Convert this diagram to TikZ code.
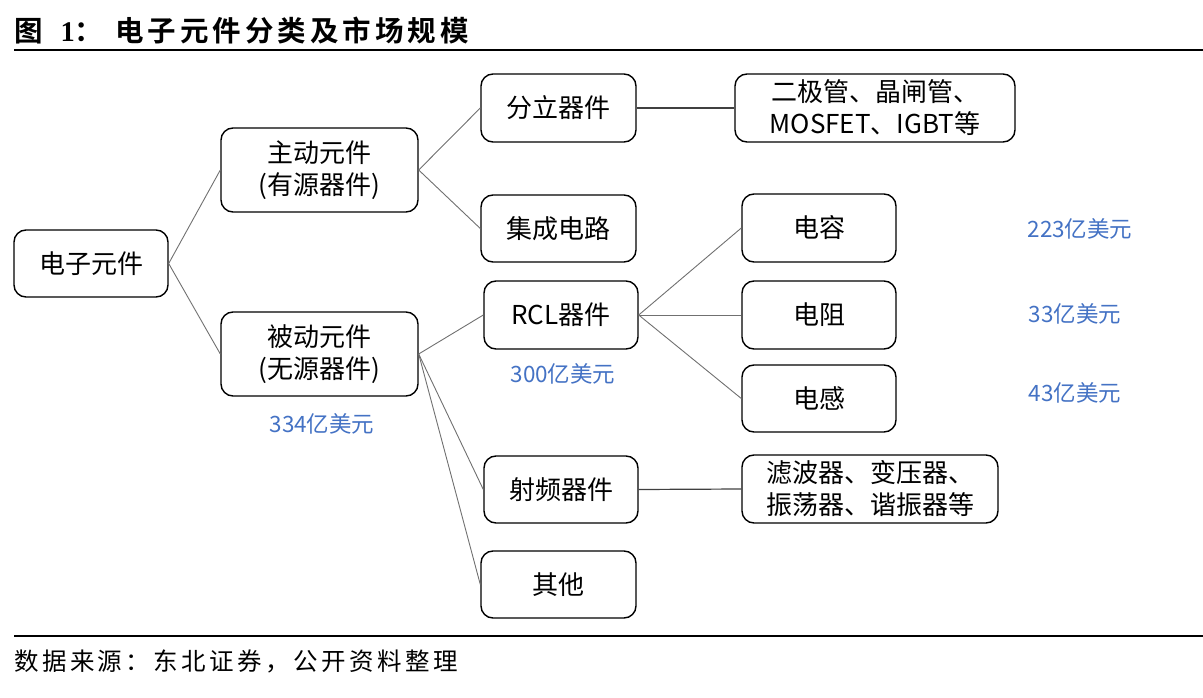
\documentclass[tikz,border=0pt]{standalone}
\usepackage{fontspec}
\setmainfont{Noto Sans CJK SC}[BoldFont={Noto Sans CJK SC Bold}]
\newfontfamily\numfont{Liberation Serif}
\newfontfamily\spacedfont{Noto Sans CJK SC}[BoldFont={Noto Sans CJK SC Bold},LetterSpace=14]
\definecolor{lblue}{HTML}{4472C4}
\definecolor{lgray}{HTML}{707070}
\tikzset{
  box/.style={draw=black, line width=1.4pt, rounded corners=12pt, inner sep=0pt, align=center,
    font=\fontsize{26}{32}\selectfont},
  conn/.style={draw=lgray, line width=0.9pt},
  conndark/.style={draw=black!75, line width=1.2pt},
  val/.style={text=lblue, font=\fontsize{22.5}{26}\selectfont, inner sep=0pt},
}
\begin{document}
\begin{tikzpicture}[x=1pt,y=-1pt]
\useasboundingbox (0,0) rectangle (1203,698);
% title
\node[anchor=west, inner sep=0pt, font=\fontsize{28.5}{30}\selectfont\bfseries] (title) at (14,31) {图\hspace{18pt}{\numfont 1}：\hspace{12pt}{\spacedfont\bfseries 电子元件分类及市场规模}};
\draw[line width=2.2pt] (14,50) -- (1203,50);
\draw[line width=2.2pt] (14,636) -- (1203,636);
\node[anchor=west, inner sep=0pt, font=\fontsize{24.5}{28}\selectfont\spacedfont] (src) at (14,661) {数据来源：东北证券，公开资料整理};
% nodes
\node[box, minimum width=154pt, minimum height=67pt] (root) at (91,263.5) {电子元件};
\node[box, minimum width=197pt, minimum height=84pt] (act) at (319.5,170) {主动元件\\(有源器件)};
\node[box, minimum width=197pt, minimum height=84pt] (pas) at (319.5,354) {被动元件\\(无源器件)};
\node[box, minimum width=155pt, minimum height=68pt] (disc) at (558.5,108) {分立器件};
\node[box, minimum width=155pt, minimum height=67pt] (ic) at (558.5,228.5) {集成电路};
\node[box, minimum width=154pt, minimum height=68pt] (rcl) at (561,315) {RCL器件};
\node[box, minimum width=154pt, minimum height=67pt] (rf) at (561,489.5) {射频器件};
\node[box, minimum width=155pt, minimum height=67pt] (oth) at (558.5,584.5) {其他};
\node[box, minimum width=280pt, minimum height=68pt] (dio) at (875,108) {二极管、晶闸管、\\MOSFET、IGBT等};
\node[box, minimum width=154pt, minimum height=68pt] (cap) at (819,228) {电容};
\node[box, minimum width=154pt, minimum height=68pt] (res) at (819,315) {电阻};
\node[box, minimum width=154pt, minimum height=67pt] (ind) at (819,398.5) {电感};
\node[box, minimum width=256pt, minimum height=68pt] (filt) at (870,489) {滤波器、变压器、\\振荡器、谐振器等};
% values
\node[val] (v334) at (322,424) {334亿美元};
\node[val] (v300) at (563,374) {300亿美元};
\node[val] (v223) at (1080,229) {223亿美元};
\node[val] (v33) at (1075,314) {33亿美元};
\node[val] (v43) at (1075,393) {43亿美元};
% connectors
\draw[conn] (root.east) -- (act.west);
\draw[conn] (root.east) -- (pas.west);
\draw[conn] (act.east) -- (disc.west);
\draw[conn] (act.east) -- (ic.west);
\draw[conn] (pas.east) -- (rcl.west);
\draw[conn] (pas.east) -- (rf.west);
\draw[conn] (pas.east) -- (oth.west);
\draw[conn] (rcl.east) -- (cap.west);
\draw[conn] (rcl.east) -- (res.west);
\draw[conn] (rcl.east) -- (ind.west);
\draw[conndark] (disc.east) -- (dio.west);
\draw[conndark] (rf.east) -- (filt.west);
\end{tikzpicture}
\end{document}
